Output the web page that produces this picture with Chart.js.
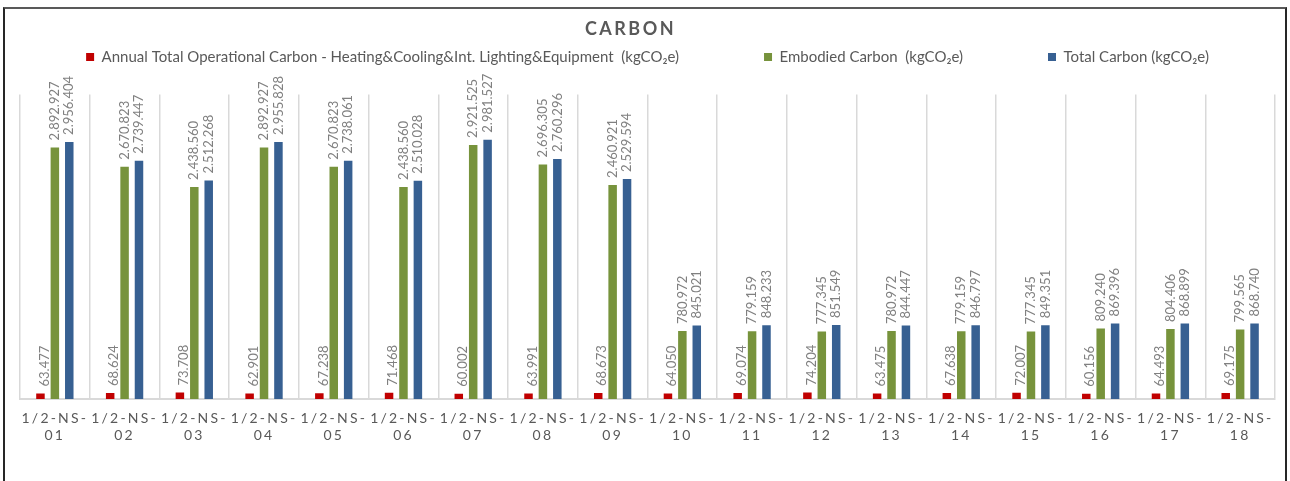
<!DOCTYPE html>
<html>
<head>
<meta charset="utf-8">
<title>CARBON</title>
<script src="https://cdn.jsdelivr.net/npm/chart.js@4"></script>
<style>
  html, body { margin: 0; padding: 0; background: #ffffff; overflow: hidden; }
  #wrap { position: relative; width: 1290px; height: 481px; }
  #wrap canvas { position: absolute; left: 0; top: 0; }
  /* outer chart frame; its bottom edge runs past the page */
  #frame {
    position: absolute; left: 3px; top: 7px; width: 1284px; height: 600px;
    box-sizing: border-box; border: 2px solid #262626; border-top-color: #595959;
    pointer-events: none;
  }
</style>
</head>
<body>
<div id="wrap">
  <canvas id="carbonChart" width="1290" height="481"></canvas>
  <div id="frame"></div>
</div>
<script>
// ---- data -------------------------------------------------------------
const chartTitle = 'CARBON';
const categoryPrefix = '1/2-NS-';
const categoryNumbers = ['01', '02', '03', '04', '05', '06', '07', '08', '09',
                         '10', '11', '12', '13', '14', '15', '16', '17', '18'];

const operationalLabel = 'Annual Total Operational Carbon - Heating&Cooling&Int. Lighting&Equipment  (kgCO\u2082e)';
const embodiedLabel = 'Embodied Carbon  (kgCO\u2082e)';
const totalLabel = 'Total Carbon (kgCO\u2082e)';

const operationalCarbon = [63477, 68624, 73708, 62901, 67238, 71468, 60002, 63991, 68673,
                           64050, 69074, 74204, 63475, 67638, 72007, 60156, 64493, 69175];
const embodiedCarbon = [2892927, 2670823, 2438560, 2892927, 2670823, 2438560, 2921525, 2696305, 2460921,
                        780972, 779159, 777345, 780972, 779159, 777345, 809240, 804406, 799565];
const totalCarbon = [2956404, 2739447, 2512268, 2955828, 2738061, 2510028, 2981527, 2760296, 2529594,
                     845021, 848233, 851549, 844447, 846797, 849351, 869396, 868899, 868740];

const valueAxisMax = 3500000;

// ---- helpers ----------------------------------------------------------
// thousands grouped with dots, e.g. 2956404 -> "2.956.404"
const formatValue = v => String(v).replace(/\B(?=(\d{3})+(?!\d))/g, '.');

const FONT = 'Lato';

// rotated value labels above every bar
const barValueLabels = {
  id: 'barValueLabels',
  afterDatasetsDraw(chart, args, opts) {
    const ctx = chart.ctx;
    ctx.save();
    ctx.letterSpacing = '0px';
    ctx.font = opts.size + 'px ' + FONT;
    ctx.fillStyle = opts.color;
    ctx.textAlign = 'left';
    ctx.textBaseline = 'middle';
    chart.data.datasets.forEach((ds, i) => {
      const meta = chart.getDatasetMeta(i);
      const dx = (opts.shift && opts.shift[i]) || 0;
      meta.data.forEach((bar, j) => {
        ctx.save();
        ctx.translate(bar.x + dx, bar.y - opts.gap);
        ctx.rotate(-Math.PI / 2);
        ctx.fillText(formatValue(ds.data[j]), 0, 0);
        ctx.restore();
      });
    });
    ctx.restore();
  }
};

// extra room under the legend, before the plot area
const legendGap = {
  id: 'legendGap',
  beforeLayout(chart, args, opts) {
    const legend = chart.legend;
    if (legend && !legend._gapPatched) {
      const fit = legend.fit;
      legend.fit = function () {
        fit.call(this);
        this.height += opts.extra;
      };
      legend._gapPatched = true;
    }
  }
};

// letter spacing for the title and the category labels
const spacedText = {
  id: 'spacedText',
  beforeDraw(chart, args, opts) {
    const wrap = (obj, fn, spacing, shiftX) => {
      if (!obj || obj['_spaced_' + fn]) return;
      const orig = obj[fn];
      obj[fn] = function () {
        const ctx = chart.ctx;
        ctx.save();
        ctx.letterSpacing = spacing;
        if (shiftX) ctx.translate(shiftX, 0);
        orig.apply(this, arguments);
        ctx.restore();
      };
      obj['_spaced_' + fn] = true;
    };
    wrap(chart.titleBlock, 'draw', opts.titleSpacing, opts.titleShift);
    wrap(chart.scales.x, 'drawLabels', opts.tickSpacing, 0);
  }
};

// ---- chart ------------------------------------------------------------
const labels = categoryNumbers.map(n => [categoryPrefix, n]);

const barStyle = { borderWidth: 0, categoryPercentage: 0.62, barPercentage: 0.59 };

new Chart(document.getElementById('carbonChart'), {
  type: 'bar',
  data: {
    labels: labels,
    datasets: [
      Object.assign({ label: operationalLabel, data: operationalCarbon, backgroundColor: '#C00000' }, barStyle),
      Object.assign({ label: embodiedLabel, data: embodiedCarbon, backgroundColor: '#77933C' }, barStyle),
      Object.assign({ label: totalLabel, data: totalCarbon, backgroundColor: '#376092' }, barStyle)
    ]
  },
  options: {
    responsive: false,
    animation: false,
    events: [],
    layout: { padding: { left: 20, right: 15, top: 0, bottom: 27 } },
    scales: {
      x: {
        grid: { display: true, drawTicks: false, color: '#D9D9D9', lineWidth: 1.5 },
        border: { display: true, color: '#D9D9D9', width: 2 },
        ticks: {
          color: '#595959',
          padding: 10.5,
          maxRotation: 0,
          autoSkip: false,
          font: { family: FONT, size: 14, lineHeight: '17px' }
        }
      },
      y: { display: false, min: 0, max: valueAxisMax }
    },
    plugins: {
      title: {
        display: true,
        text: chartTitle,
        color: '#595959',
        font: { family: FONT, size: 18, weight: 'bold', lineHeight: 1.2 },
        padding: { top: 18, bottom: 0 }
      },
      legend: {
        display: true,
        position: 'top',
        labels: {
          color: '#595959',
          font: { family: FONT, size: 15 },
          boxWidth: 8,
          boxHeight: 8,
          padding: 10,
          generateLabels(chart) {
            const items = Chart.defaults.plugins.legend.labels.generateLabels(chart);
            items.forEach((it, i) => {
              if (i < items.length - 1) it.text += '\u2002'.repeat(10);
            });
            return items;
          }
        }
      },
      tooltip: { enabled: false },
      barValueLabels: { size: 13, color: '#808080', gap: 7, shift: [4, 0, 0] },
      legendGap: { extra: 20 },
      spacedText: { titleSpacing: '2.5px', titleShift: -17, tickSpacing: '2.2px' }
    }
  },
  plugins: [barValueLabels, legendGap, spacedText]
});
</script>
</body>
</html>
